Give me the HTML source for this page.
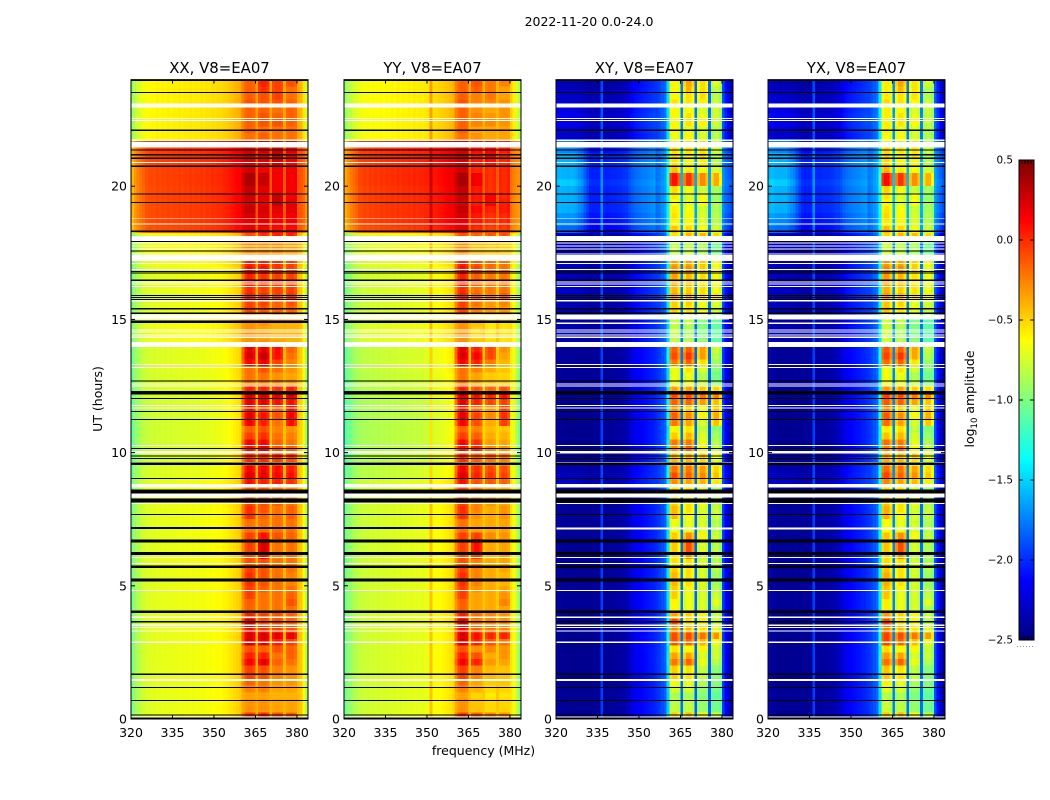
<!DOCTYPE html>
<html>
<head>
<meta charset="utf-8">
<title>2022-11-20 amplitude waterfall</title>
<style>
html,body{margin:0;padding:0;background:#fff;}
#chart{display:block;font-family:"DejaVu Sans","Liberation Sans",sans-serif;fill:#000;}
</style>
</head>
<body>
<svg id="chart" xmlns="http://www.w3.org/2000/svg" width="1050" height="800" viewBox="0 0 1050 800">
<text x="589" y="26" font-size="12.5" text-anchor="middle">2022-11-20 0.0-24.0</text>
<text x="483.5" y="755" font-size="12.5" text-anchor="middle">frequency (MHz)</text>
<text transform="translate(102,399) rotate(-90)" font-size="12.5" text-anchor="middle">UT (hours)</text>
<text transform="translate(974,399) rotate(-90)" font-size="12.5" text-anchor="middle">log<tspan font-size="8.5" dy="3">10</tspan><tspan dy="-3"> amplitude</tspan></text>
<g id="panels"></g>
<g id="colorbar"></g>
</svg>
<script>
// ---- axis tick labels ----
const freqTicks = [320,335,350,365,380];
const utTicks = [0,5,10,15,20];
const colorbarTicks = [0.5,0.0,-0.5,-1.0,-1.5,-2.0,-2.5];
const panelTitles = ["XX, V8=EA07","YY, V8=EA07","XY, V8=EA07","YX, V8=EA07"];

// ---- per-channel (1 MHz, 320-384 MHz) quiet log10 amplitude ----
const xxSpectrum = [-1.0,-0.92,-0.85,-0.8,-0.76,-0.74,-0.72,-0.71,-0.72,-0.69,-0.71,-0.69,-0.7,-0.68,-0.7,-0.68,
-0.69,-0.67,-0.69,-0.67,-0.68,-0.66,-0.68,-0.66,-0.67,-0.65,-0.67,-0.64,-0.65,-0.63,-0.64,-0.62,
-0.62,-0.6,-0.59,-0.57,-0.55,-0.52,-0.5,-0.47,-0.42,-0.42,-0.42,-0.42,-0.42,-0.38,-0.42,-0.42,
-0.42,-0.42,-0.4,-0.42,-0.42,-0.42,-0.42,-0.4,-0.42,-0.42,-0.42,-0.42,-0.42,-0.46,-0.62,-0.85];
const yySpectrum = [-1.05,-0.98,-0.92,-0.87,-0.83,-0.8,-0.79,-0.76,-0.78,-0.75,-0.77,-0.74,-0.76,-0.73,-0.75,-0.73,
-0.74,-0.72,-0.74,-0.71,-0.73,-0.71,-0.72,-0.7,-0.72,-0.69,-0.71,-0.69,-0.7,-0.68,-0.68,-0.45,
-0.65,-0.64,-0.62,-0.61,-0.59,-0.57,-0.55,-0.52,-0.46,-0.45,-0.45,-0.45,-0.45,-0.44,-0.48,-0.48,
-0.48,-0.48,-0.46,-0.5,-0.5,-0.5,-0.5,-0.46,-0.5,-0.5,-0.5,-0.5,-0.55,-0.65,-0.8,-0.95];
const xySpectrum = [-2.36,-2.44,-2.45,-2.45,-2.46,-2.45,-2.46,-2.45,-2.46,-2.45,-2.45,-2.45,-2.45,-2.44,-2.44,-2.44,
-1.95,-2.44,-2.44,-2.43,-2.42,-2.42,-2.41,-2.4,-2.38,-2.35,-2.3,-2.22,-2.18,-2.16,-2.14,-2.12,
-2.1,-2.08,-2.06,-2.04,-2.0,-1.96,-1.9,-1.85,-1.7,-1.15,-1.15,-1.15,-1.15,-1.8,-1.15,-1.15,
-1.15,-1.15,-1.85,-1.15,-1.15,-1.15,-1.15,-1.85,-1.2,-1.2,-1.2,-1.3,-1.95,-2.15,-2.3,-2.4];
const yxSpectrum = [-2.34,-2.42,-2.44,-2.45,-2.46,-2.45,-2.45,-2.45,-2.45,-2.44,-2.44,-2.44,-2.44,-2.44,-2.44,-2.42,
-1.95,-2.42,-2.42,-2.41,-2.4,-2.4,-2.39,-2.38,-2.34,-2.32,-2.28,-2.2,-2.16,-2.14,-2.12,-2.1,
-2.08,-2.06,-2.04,-2.02,-1.98,-1.94,-1.88,-1.82,-1.65,-1.15,-1.15,-1.15,-1.15,-1.75,-1.15,-1.15,
-1.15,-1.15,-1.8,-1.15,-1.15,-1.15,-1.15,-1.8,-1.2,-1.2,-1.2,-1.3,-1.9,-2.1,-2.28,-2.4];

// sensitivity of each parallel-hand channel to the daytime lift
const parallelDayShape = [0.95,0.95,0.95,0.95,0.95,1,1,1,1,1,1,1,1,1,1,1,
1,1,1,1,1,1,1,1,1,1,1,1,1,1,1,1,
1,1,1,1,1,1,1,0.95,0.9,1,1,1,1,0.45,1,1,
1,1,0.45,1,1,1,1,0.45,1,1,1,1,0.5,0.55,0.7,0.9];
// sensitivity of each cross-hand channel to the daytime lift
const crossDayShape = [0.75,0.85,0.85,0.85,0.85,0.85,0.85,0.8,0.75,0.7,0.6,0.5,0.42,0.4,0.4,0.4,
0.25,0.4,0.4,0.4,0.4,0.4,0.4,0.4,0.4,0.38,0.38,0.36,0.36,0.36,0.36,0.36,
0.35,0.35,0.35,0.35,0.2,0.2,0.2,0.2,0.1,0,0,0,0,0.2,0,0,
0,0,0.2,0,0,0,0,0.2,0,0,0,0,0.25,0.35,0.45,0.5];

// ---- which sub-band each channel belongs to, and how fully it reaches the sub-band level ----
const channelSubband = [-1,-1,-1,-1,-1,-1,-1,-1,-1,-1,-1,-1,-1,-1,-1,-1,
-1,-1,-1,-1,-1,-1,-1,-1,-1,-1,-1,-1,-1,-1,-1,-1,
-1,-1,-1,-1,-1,-1,-1,-1,0,0,0,0,0,-1,1,1,
1,1,-1,2,2,2,2,-1,3,3,3,3,-1,-1,-1,-1];
const parallelWeight = [0,0,0,0,0,0,0,0,0,0,0,0,0,0,0,0,
0,0,0,0,0,0,0,0,0,0,0,0,0,0,0,0,
0,0,0,0,0,0,0,0,0.45,0.85,1,1,0.85,0,0.85,1,
1,0.85,0,0.85,1,1,0.85,0,0.85,1,1,0.8,0,0,0,0];
const crossWeight = [0,0,0,0,0,0,0,0,0,0,0,0,0,0,0,0,
0,0,0,0,0,0,0,0,0,0,0,0,0,0,0,0,
0,0,0,0,0,0,0,0,0.2,0.9,1,1,0.8,0,0.8,1,
1,0.8,0,0.8,1,1,0.8,0,0.8,1,1,0.75,0,0,0,0];

// ---- sub-band log10 amplitude, one value per quarter hour from 0 UT (four values per group = one hour) ----
const subbandA = [
-0.05,-0.3,-0.3,-0.35, -0.25,-0.15,-0.05,-0.05, 0.15,0.05,-0.1,0.25, 0.25,0.1,0.25,0.05,
-0.15,-0.15,-0.05,-0.05, 0,0,-0.05,-0.1, -0.1,-0.05,-0.05,-0.05, -0.2,-0.2,0,0,
-0.05,-0.05,-0.1,0.1, 0.25,0.15,0,0, 0.1,0.15,-0.05,-0.15, 0.15,0.2,0.1,0.2,
0.25,0.05,-0.2,-0.2, -0.2,0.15,0.25,0.2, -0.3,-0.3,-0.3,-0.3, -0.2,-0.05,-0.05,0.05,
0,0.05,0.05,0.1, 0.05,-0.3,-0.3,-0.3, -0.1,0.2,0.2,0.25, 0.3,0.25,0.3,0.3,
0.38,0.38,0.25,0.25, 0.25,0.25,0.2,-0.2, -0.15,-0.15,-0.15,-0.15, -0.1,-0.15,-0.15,-0.15];
const subbandB = [
0,-0.3,-0.3,-0.35, -0.25,-0.2,-0.1,-0.1, 0.2,0.05,-0.15,0.2, 0.25,0,-0.1,-0.05,
-0.2,-0.2,-0.2,-0.15, -0.1,-0.1,-0.1,-0.1, 0.1,0.25,0.25,0.1, -0.2,-0.2,-0.15,-0.1,
-0.1,-0.1,-0.1,0.05, 0.2,0.15,0,0, 0.2,0.15,0,-0.1, 0.05,0.1,-0.05,0.2,
0.25,0.05,-0.2,-0.2, -0.1,0.2,0.3,0.2, -0.3,-0.35,-0.35,-0.3, -0.3,-0.1,-0.05,0,
-0.05,0,0,0.1, 0.05,-0.25,-0.3,-0.3, 0,0.15,0.2,0.2, 0.25,0.2,0.2,0.2,
0.3,0.3,0.15,0.2, 0.2,0.25,0.25,-0.15, -0.2,-0.1,-0.1,-0.15, -0.1,-0.1,0,0.05];
const subbandC = [
-0.1,-0.35,-0.35,-0.4, -0.35,-0.3,-0.25,-0.25, -0.15,-0.2,-0.1,0.05, 0.2,-0.05,-0.1,-0.1,
-0.2,-0.2,-0.2,-0.2, -0.2,-0.2,-0.2,-0.2, -0.25,-0.2,-0.2,-0.1, -0.2,-0.2,-0.2,-0.2,
-0.15,-0.15,-0.2,0.05, 0.15,0.1,-0.05,0, -0.1,-0.15,-0.2,-0.25, -0.2,-0.1,-0.15,0.1,
0.2,0,-0.25,-0.3, -0.2,-0.05,0.1,0.1, -0.35,-0.4,-0.4,-0.4, -0.2,-0.15,-0.15,-0.05,
-0.05,-0.05,-0.05,0, 0,-0.3,-0.3,-0.3, 0.05,0.1,0.15,0.15, 0.2,0.3,0.3,0.15,
0.15,0.15,0.15,0.25, 0.3,0.3,0.3,-0.2, -0.2,-0.1,-0.15,-0.2, -0.1,-0.05,-0.05,-0.05];
const subbandD = [
-0.15,-0.35,-0.35,-0.4, -0.35,-0.3,-0.3,-0.3, -0.2,-0.15,-0.15,-0.05, 0.2,-0.1,-0.15,-0.15,
-0.2,-0.1,-0.15,-0.2, -0.25,-0.25,-0.2,-0.2, -0.2,-0.2,-0.2,-0.15, -0.2,-0.2,-0.15,-0.15,
-0.2,-0.2,-0.25,0, 0.1,0.05,-0.1,-0.05, -0.15,-0.2,-0.25,-0.3, 0.1,0.15,0.1,0.1,
0.25,0.05,-0.3,-0.35, -0.3,-0.25,-0.2,-0.15, -0.4,-0.4,-0.4,-0.4, -0.25,-0.15,-0.1,0,
-0.05,-0.05,-0.05,-0.05, -0.05,-0.3,-0.35,-0.35, 0.05,0.1,0.15,0.15, 0.2,0.2,0.15,0.15,
0.15,0.15,0.15,0.15, 0.15,0.2,0.2,-0.2, -0.2,-0.15,-0.15,-0.15, -0.15,-0.2,-0.2,-0.1];

// offsets of the YY sub-bands relative to XX, and the cross-hand levels relative to parallel hand
const yySubbandOffset = [0,-0.15,-0.17,-0.15];
const crossSubbandOffset = [0,0,-0.05,-0.15];
const yxSubbandOffset = [0.03,0,-0.07,-0.17];
const crossResponse = [-0.8,1.3];   // level at -0.3 parallel amplitude, slope

// quarter-hour broadband lift: parallel hands and cross hands
const xxRowLift = [
0,0,0,0, 0,0,0,0, 0,0,0,0, 0,0,0,0,
0,0,0,0, 0,0,0,0, 0,0,0,0, 0,0,0,0,
0,0,0,0, -0.03,-0.03,-0.05,-0.05, -0.06,-0.06,-0.06,-0.06, -0.06,-0.06,-0.06,-0.06,
-0.04,-0.04,-0.04,-0.04, -0.03,-0.03,-0.03,-0.03, 0.03,0.03,0.03,0.03, 0,0,0,0,
0,0,0,0, 0.03,0.05,0.05,0.05, 0.05,0.6,0.62,0.62, 0.62,0.62,0.62,0.62,
0.63,0.63,0.63,0.64, 0.64,0.65,0.68,0.1, 0.1,0.1,0.1,0.1, 0.1,0.1,0.1,0.1];
const yyRowLift = [
0,0,0,0, 0,0,0,0, 0,0,0,0, 0,0,0,0,
0,0,0,0, 0,0,0,0, 0,0,0,0, 0,0,0,0,
0,0,0,0, -0.06,-0.06,-0.08,-0.08, -0.1,-0.1,-0.1,-0.1, -0.1,-0.1,-0.1,-0.1,
-0.06,-0.06,-0.06,-0.06, -0.04,-0.04,-0.04,-0.04, 0.03,0.03,0.03,0.03, 0,0,0,0,
0,0,0,0, 0.03,0.05,0.05,0.05, 0.05,0.66,0.7,0.7, 0.7,0.7,0.7,0.7,
0.72,0.72,0.72,0.72, 0.72,0.72,0.74,0.12, 0.12,0.12,0.12,0.12, 0.12,0.12,0.12,0.12];
const crossRowLift = [
0.02,0.02,0.02,0.02, 0.02,0.02,0,0, 0,0,0,0, 0,0,0,0,
0.03,0.03,0.03,0.03, 0.03,0.03,0.03,0.03, 0.03,0.03,0.03,0.03, 0.03,0.03,0.03,0.03,
0.05,0.05,0.05,0.2, 0.15,0.1,0.05,0.05, 0,0,0,0, 0,0,0,0,
0.03,0.03,0.03,0.03, 0.03,0.03,0.03,0.03, 0.1,0.1,0.1,0.1, 0.12,0.15,0.15,0.18,
0.2,0.2,0.15,0.15, 0.15,0.12,0.12,0.12, 0.12,0.75,0.85,0.9, 1,1,1,1,
1.1,1,1,1, 1,0.85,0.85,0.2, 0.28,0.32,0.35,0.28, 0.22,0.2,0.15,0.12];
const crossDayTrim = [
0,0,0,0, 0,0,0,0, 0,0,0,0, 0,0,0,0,
0,0,0,0, 0,0,0,0, 0,0,0,0, 0,0,0,0,
0,0,0,0, 0,0,0,0, 0,0,0,0, 0,0,0,0,
0,0,0,0, 0,0,0,0, 0,0,0,0, 0,0,0,0,
0,0,0,0, 0,0,0,0, 0,-0.3,-0.45,-0.45, -0.55,-0.55,-0.55,-0.5,
0,0,-0.35,-0.45, -0.45,-0.45,-0.45,0, 0,0,0,0, 0,0,0,0];

// ---- flagged intervals in UT hours ----
const whiteFlagStart = [22.96,22.52,22.45,21.7,21.46,20.87,18.78,18.57,17.93,17.84,17.74,17.63,17.43,17.19,17.08,16.86,16.39,16.31,16.22,15.68,15.0,14.58,14.5,14.39,14.31,13.97,13.28,13.18,12.55,12.48,11.74,11.65,10.24,9.96,9.61,8.69,8.32,8.07,6.05,5.82,4.81,3.8,3.5,3.41,3.28,2.86,1.42,0.06];
const whiteFlagEnd   = [23.11,22.56,22.49,21.75,21.66,20.9,18.81,18.6,18.14,17.88,17.78,17.67,17.47,17.42,17.12,16.9,16.43,16.35,16.26,15.72,15.18,14.62,14.54,14.43,14.35,14.15,13.32,13.22,12.59,12.52,11.78,11.69,10.28,10.06,9.65,8.83,8.46,8.11,6.09,5.86,4.85,3.84,3.54,3.45,3.32,2.9,1.5,0.1];
const blackFlagStart = [23.95,23.5,22.08,21.34,21.16,21.03,20.73,19.68,19.37,18.29,17.91,17.55,16.77,16.72,16.45,15.87,15.81,15.73,15.38,15.21,12.66,12.19,12.01,11.53,11.23,10.13,9.86,9.76,9.53,9.01,8.46,8.12,7.66,6.63,6.16,5.66,5.17,3.98,3.63,1.66,1.17,0.68,0.13,0];
const blackFlagEnd   = [24,23.54,22.12,21.38,21.2,21.07,20.77,19.72,19.41,18.33,17.95,17.59,16.81,16.76,16.49,15.91,15.85,15.77,15.42,15.25,12.7,12.31,12.05,11.57,11.27,10.17,9.9,9.8,9.63,9.05,8.62,8.27,7.7,6.73,6.26,5.76,5.27,4.08,3.67,1.7,1.21,0.72,0.17,0.05];
const parallelOnlyBlackStart = [14.86,7.13];
const parallelOnlyBlackEnd   = [14.96,7.21];
const crossOnlyWhiteStart = [14.82,7.11];
const crossOnlyWhiteEnd   = [14.88,7.19];

// ---- colour scale limits ----
const colorRange = [-2.5,0.5];

// ---- layout ----
const panelLeft = [131,344,556,768];
const panelWidth = 177;
const plotTop = 79.64, plotBottom = 719;
const freqMin = 320, freqMax = 384, utMax = 24;
const rowHours = 0.25;
const cbLeft = 1019, cbRight = 1034, cbTop = 160, cbBottom = 640;
const NS = "http://www.w3.org/2000/svg";

function xScale(left, f){ return left + (f-freqMin)/(freqMax-freqMin)*panelWidth; }
function yScale(u){ return plotBottom - u/utMax*(plotBottom-plotTop); }
function clamp01(a){ return Math.max(0,Math.min(1,a)); }
function jet(v){
  const t = clamp01((v-colorRange[0])/(colorRange[1]-colorRange[0]));
  const r = clamp01(1.5-Math.abs(4*t-3));
  const g = clamp01(1.5-Math.abs(4*t-2));
  const b = clamp01(1.5-Math.abs(4*t-1));
  return "rgb("+Math.round(r*255)+","+Math.round(g*255)+","+Math.round(b*255)+")";
}
function makeRect(parent,x,y,w,h,fill,crisp){
  const el = document.createElementNS(NS,"rect");
  el.setAttribute("x",x);
  el.setAttribute("y",y);
  el.setAttribute("width",w);
  el.setAttribute("height",h);
  el.setAttribute("fill",fill);
  if(crisp){ el.setAttribute("shape-rendering","crispEdges"); }
  parent.appendChild(el);
  return el;
}
function makeLine(parent,x1,y1,x2,y2,color,width){
  const el = document.createElementNS(NS,"line");
  el.setAttribute("x1",x1);
  el.setAttribute("y1",y1);
  el.setAttribute("x2",x2);
  el.setAttribute("y2",y2);
  el.setAttribute("stroke",color);
  el.setAttribute("stroke-width",width);
  parent.appendChild(el);
  return el;
}
function makeText(parent,x,y,str,size,anchor){
  const el = document.createElementNS(NS,"text");
  el.setAttribute("x",x);
  el.setAttribute("y",y);
  el.setAttribute("font-size",size);
  el.setAttribute("text-anchor",anchor);
  el.textContent = str;
  parent.appendChild(el);
  return el;
}

const subbands = [subbandA,subbandB,subbandC,subbandD];

function parallelValue(spec,lift,offsets,ch,row){
  const base = spec[ch] + lift[row]*parallelDayShape[ch];
  const sb = channelSubband[ch];
  if(sb<0){ return base; }
  const level = subbands[sb][row] + offsets[sb];
  const w = parallelWeight[ch];
  return base*(1-w) + level*w;
}
function crossValue(spec,offsets,ch,row){
  const base = spec[ch] + crossRowLift[row]*crossDayShape[ch];
  const sb = channelSubband[ch];
  if(sb<0){ return base; }
  const level = crossResponse[0] + crossResponse[1]*(subbands[sb][row]+0.3) + offsets[sb] + crossDayTrim[row];
  const w = crossWeight[ch];
  return base*(1-w) + level*w;
}

const zeroOffsets = [0,0,0,0];
const panelValue = [
  function(ch,row){ return parallelValue(xxSpectrum,xxRowLift,zeroOffsets,ch,row); },
  function(ch,row){ return parallelValue(yySpectrum,yyRowLift,yySubbandOffset,ch,row); },
  function(ch,row){ return crossValue(xySpectrum,crossSubbandOffset,ch,row); },
  function(ch,row){ return crossValue(yxSpectrum,yxSubbandOffset,ch,row); }
];

const panelsRoot = document.getElementById("panels");
const nChannels = xxSpectrum.length;
const nRows = subbandA.length;

panelTitles.forEach(function(title,p){
  const left = panelLeft[p];
  const isCross = p>=2;
  const g = document.createElementNS(NS,"g");
  
  
  panelsRoot.appendChild(g);

  // heatmap
  const cells = document.createElementNS(NS,"g");
  
  
  g.appendChild(cells);
  for(let row=0;row<nRows;row++){
    const u0 = row*rowHours;
    const yTop = yScale(u0+rowHours);
    const yBot = yScale(u0);
    for(let ch=0;ch<nChannels;ch++){
      const f0 = freqMin+ch;
      const x0 = xScale(left,f0);
      const x1 = xScale(left,f0+1);
      const cell = makeRect(cells,x0,yTop,x1-x0,yBot-yTop,jet(panelValue[p](ch,row)),true);
      
      
    }
  }

  // flagged intervals
  const right = left+panelWidth;
  whiteFlagStart.forEach(function(s,i){
    const e = whiteFlagEnd[i];
    const r = makeRect(g,left,yScale(e),panelWidth,yScale(s)-yScale(e),"#fff",true);
    
    
  });
  if(isCross){
    crossOnlyWhiteStart.forEach(function(s,i){
      const e = crossOnlyWhiteEnd[i];
      const r = makeRect(g,left,yScale(e),panelWidth,yScale(s)-yScale(e),"#fff",true);
      
      
    });
  }
  blackFlagStart.forEach(function(s,i){
    const e = blackFlagEnd[i];
    const r = makeRect(g,left,yScale(e),panelWidth,yScale(s)-yScale(e),"#000",true);
    
    
  });
  if(!isCross){
    parallelOnlyBlackStart.forEach(function(s,i){
      const e = parallelOnlyBlackEnd[i];
      const r = makeRect(g,left,yScale(e),panelWidth,yScale(s)-yScale(e),"#000",true);
      
      
    });
  }

  // ticks and labels
  freqTicks.forEach(function(f){
    const x = xScale(left,f);
    const t1 = makeLine(g,x,plotBottom,x,plotBottom-4,"#000",1);
    
    
    const t2 = makeLine(g,x,plotTop,x,plotTop+4,"#000",1);
    
    
    const lab = makeText(g,x,737,String(f),12.5,"middle");
    
    
  });
  utTicks.forEach(function(u){
    const y = yScale(u);
    const t1 = makeLine(g,left,y,left+4,y,"#000",1);
    
    
    const t2 = makeLine(g,right,y,right-4,y,"#000",1);
    
    
    const lab = makeText(g,left-4,y+4.5,String(u),12.5,"end");
    
    
  });

  // frame
  const frame = document.createElementNS(NS,"rect");
  frame.setAttribute("x",left);
  frame.setAttribute("y",plotTop);
  frame.setAttribute("width",panelWidth);
  frame.setAttribute("height",plotBottom-plotTop);
  frame.setAttribute("fill","none");
  frame.setAttribute("stroke","#000");
  frame.setAttribute("stroke-width",1);
  
  
  g.appendChild(frame);

  // title
  const tt = makeText(g,left+panelWidth/2,73,title,14.9,"middle");
  
  
});

// ---- colorbar ----
const cb = document.getElementById("colorbar");
const cbSteps = 240;
for(let i=0;i<cbSteps;i++){
  const h = (cbBottom-cbTop)/cbSteps;
  const y = cbBottom-(i+1)*h;
  const v = colorRange[0]+(i+0.5)/cbSteps*(colorRange[1]-colorRange[0]);
  const s = makeRect(cb,cbLeft,y,cbRight-cbLeft,h,jet(v),true);
  
  
}
function cbY(v){ return cbBottom-(v-colorRange[0])/(colorRange[1]-colorRange[0])*(cbBottom-cbTop); }
colorbarTicks.forEach(function(v){
  const y = cbY(v);
  const t1 = makeLine(cb,cbLeft,y,cbLeft+4,y,"#000",1);
  
  
  const t2 = makeLine(cb,cbRight,y,cbRight-4,y,"#000",1);
  
  
  const label = v.toFixed(1).replace("-","\u2212");
  const lab = makeText(cb,1013,y+3.5,label,10.4,"end");
  
  
});
const cbFrame = document.createElementNS(NS,"rect");
cbFrame.setAttribute("x",cbLeft);
cbFrame.setAttribute("y",cbTop);
cbFrame.setAttribute("width",cbRight-cbLeft);
cbFrame.setAttribute("height",cbBottom-cbTop);
cbFrame.setAttribute("fill","none");
cbFrame.setAttribute("stroke","#000");
cbFrame.setAttribute("stroke-width",1);


cb.appendChild(cbFrame);
for(let x=cbLeft+3;x<cbRight;x+=3){
  const top = makeLine(cb,x,cbTop,x,cbTop+4,"#000",1);
  
  
  const bot = makeLine(cb,x,cbBottom,x,cbBottom-4,"#000",1);
  
  
}
const dots = makeLine(cb,1017,646.5,1035,646.5,"#999",1);
dots.setAttribute("stroke-dasharray","1 2");


</script>
</body>
</html>
